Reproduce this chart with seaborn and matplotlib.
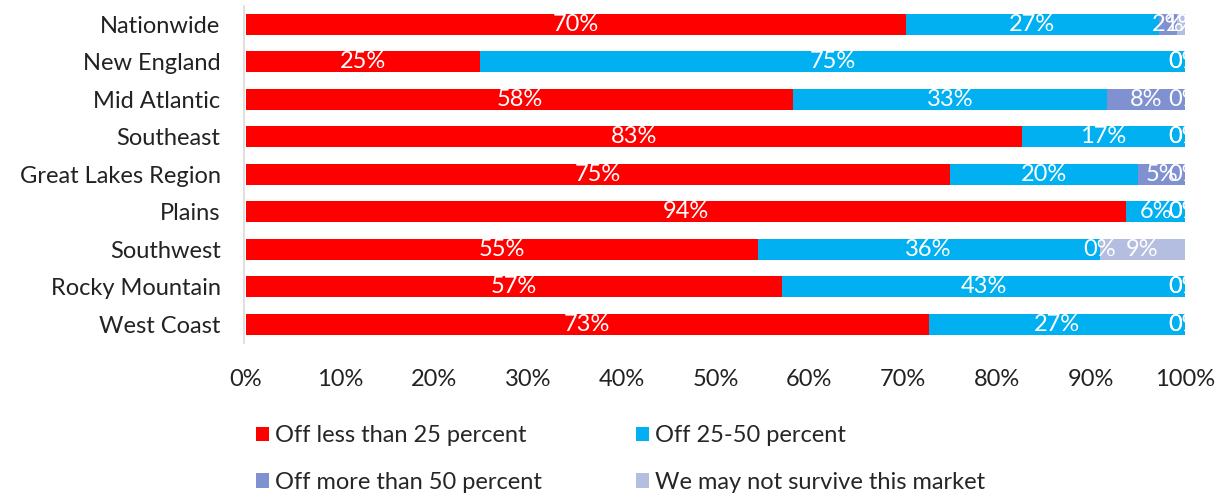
import numpy as np
import pandas as pd
import matplotlib
matplotlib.use("Agg")
import matplotlib.pyplot as plt
import seaborn as sns
from matplotlib.patches import Patch

regions = ["Nationwide", "New England", "Mid Atlantic", "Southeast", "Great Lakes Region",
           "Plains", "Southwest", "Rocky Mountain", "West Coast"]
series_names = ["Off less than 25 percent", "Off 25-50 percent",
                "Off more than 50 percent", "We may not survive this market"]
off_lt25 = [70.3, 24.9, 58.3, 82.6, 75.0, 93.75, 54.5, 57.1, 72.7]
off_25_50 = [26.9, 75.1, 33.4, 17.4, 20.0, 6.25, 36.4, 42.9, 27.3]
off_gt50 = [1.9, 0.0, 8.3, 0.0, 5.0, 0.0, 0.0, 0.0, 0.0]
not_survive = [0.9, 0.0, 0.0, 0.0, 0.0, 0.0, 9.1, 0.0, 0.0]
x_ticks = [0, 10, 20, 30, 40, 50, 60, 70, 80, 90, 100]
x_tick_labels = ["0%", "10%", "20%", "30%", "40%", "50%", "60%", "70%", "80%", "90%", "100%"]

colors = ["#FF0000", "#00B0F0", "#7F91D0", "#B4BEE0"]

sns.set_theme(style="white")
plt.rcParams["font.family"] = ["Lato", "DejaVu Sans"]
FS = 17

values = np.array([off_lt25, off_25_50, off_gt50, not_survive])
totals = values.sum(axis=0)
values = values / totals * 100
cum = np.cumsum(values, axis=0)

fig = plt.figure(figsize=(12.25, 4.99), dpi=100)
ax = fig.add_axes([246 / 1225, 1 - 343 / 499, (1185 - 246) / 1225, 337.5 / 499])

# draw cumulative bars from last series to first so they stack
for k in range(3, -1, -1):
    df = pd.DataFrame({"region": regions, "value": cum[k]})
    sns.barplot(data=df, y="region", x="value", order=regions, color=colors[k],
                width=0.57, orient="h", ax=ax, saturation=1, linewidth=0)

# labels at centers
for k in range(4):
    start = cum[k] - values[k]
    for i in range(len(regions)):
        cx = start[i] + values[k][i] / 2
        ax.text(cx, i, f"{round(values[k][i]):.0f}%", ha="center", va="center",
                color="white", fontsize=FS, clip_on=True)

ax.set_xlim(0, 100)
ax.set_ylim(8.5, -0.5)
ax.set_xticks(x_ticks)
ax.set_xticklabels(x_tick_labels, fontsize=FS, color="#222222")
ax.tick_params(axis="y", labelsize=FS, colors="#222222", length=0, pad=17)
ax.tick_params(axis="x", length=0, pad=19)
ax.set_xlabel("")
ax.set_ylabel("")
for s in ["top", "right", "bottom"]:
    ax.spines[s].set_visible(False)
ax.spines["left"].set_color("#D9D9D9")
ax.spines["left"].set_linewidth(1.2)
ax.spines["left"].set_position(("data", -0.2))

order = [0, 2, 1, 3]
handles = [Patch(facecolor=colors[j], edgecolor="none") for j in order]
labels = [series_names[j] for j in order]
fig.legend(handles, labels, loc="upper left", bbox_to_anchor=(235 / 1225, 1 - 404 / 499),
           ncol=2, frameon=False, fontsize=FS, handlelength=0.55, handleheight=0.55,
           handletextpad=0.25, columnspacing=4.0, labelspacing=1.08)

fig.savefig("out.png", dpi=100)
